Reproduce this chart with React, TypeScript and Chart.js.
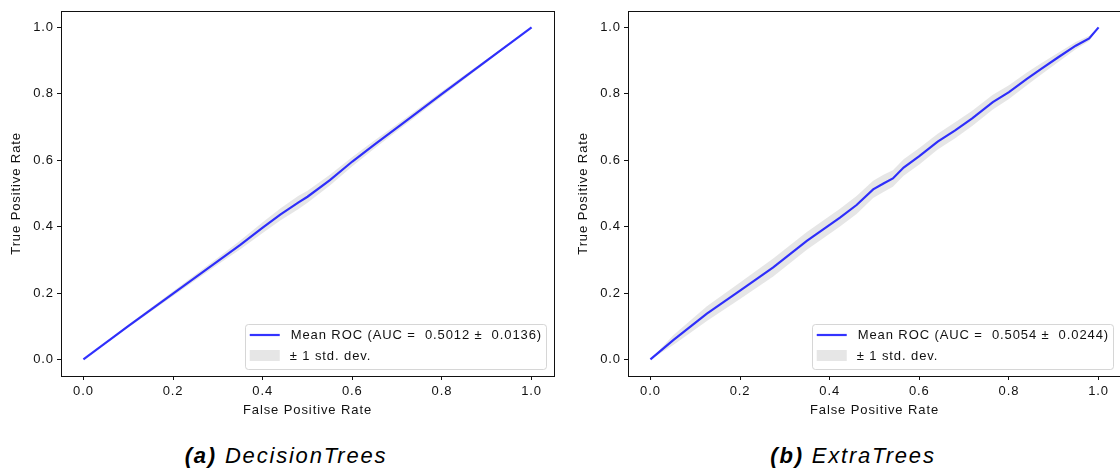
import React, { useEffect, useRef } from "react";
import { Chart, registerables } from "chart.js";

Chart.register(...registerables);

// ---------- data ----------
const DT_FPR = [0, 0.1, 0.2, 0.3, 0.35, 0.4, 0.44, 0.48, 0.5, 0.55, 0.6, 0.65, 0.7, 0.8, 0.9, 1.0];
const DT_TPR = [0, 0.1, 0.198, 0.296, 0.345, 0.397, 0.437, 0.473, 0.49, 0.54, 0.596, 0.648, 0.698, 0.8, 0.9, 1.0];
const DT_STD = [0, 0.004, 0.007, 0.01, 0.013, 0.016, 0.018, 0.02, 0.018, 0.016, 0.014, 0.012, 0.01, 0.008, 0.005, 0];

const ET_FPR = [0, 0.051, 0.126, 0.2, 0.274, 0.349, 0.423, 0.46, 0.497, 0.52, 0.541, 0.565, 0.6, 0.641, 0.68, 0.718, 0.764, 0.8, 0.84, 0.872, 0.91, 0.949, 0.979, 1.0];
const ET_TPR = [0, 0.058, 0.138, 0.207, 0.277, 0.357, 0.427, 0.465, 0.512, 0.53, 0.545, 0.578, 0.612, 0.656, 0.69, 0.726, 0.775, 0.805, 0.845, 0.875, 0.91, 0.945, 0.967, 1.0];
const ET_STD = [0, 0.015, 0.022, 0.025, 0.027, 0.027, 0.027, 0.027, 0.026, 0.026, 0.025, 0.025, 0.025, 0.024, 0.024, 0.023, 0.022, 0.021, 0.019, 0.017, 0.014, 0.011, 0.008, 0];

const TICKS = [0, 0.2, 0.4, 0.6, 0.8, 1.0];
const X_TITLE = "False Positive Rate";
const Y_TITLE = "True Positive Rate";
const DT_MEAN_LABEL = "Mean ROC (AUC =  0.5012 ±  0.0136)";
const ET_MEAN_LABEL = "Mean ROC (AUC =  0.5054 ±  0.0244)";
const STD_LABEL = "± 1 std. dev.";
const CAPTION_A = ["(a)", "DecisionTrees"];
const CAPTION_B = ["(b)", "ExtraTrees"];

// ---------- style ----------
const FONT_FAMILY = "'Liberation Sans', Arial, Helvetica, sans-serif";
const SPACING = "0.9px";
const TEXT_COLOR = "#111";
const LINE_COLOR = "rgba(0,0,255,0.8)";
const BAND_COLOR = "rgba(128,128,128,0.2)";

const framePlugin = {
  id: "frame",
  beforeDraw(chart: any) {
    (chart.ctx as any).letterSpacing = SPACING;
  },
  afterDraw(chart: any) {
    const { ctx, chartArea: a } = chart;
    ctx.save();
    (ctx as any).letterSpacing = SPACING;
    // axes frame
    ctx.strokeStyle = "#111";
    ctx.lineWidth = 1;
    ctx.strokeRect(Math.round(a.left) + 0.5, Math.round(a.top) + 0.5, Math.round(a.right - a.left), Math.round(a.bottom - a.top));

    // legend
    const ds = chart.data.datasets;
    const meanLabel = ds[0].label;
    const stdLabel = ds[1].label;
    ctx.font = `13px ${FONT_FAMILY}`;
    const tw = Math.max(ctx.measureText(meanLabel).width, ctx.measureText(stdLabel).width);
    const boxW = 5 + 30 + 11 + tw + 4;
    const boxH = 45;
    const right = a.right - 8;
    const bottom = a.bottom - 7;
    const left = right - boxW;
    const top = bottom - boxH;
    ctx.beginPath();
    (ctx as any).roundRect(Math.round(left) + 0.5, Math.round(top) + 0.5, Math.round(boxW), boxH, 3);
    ctx.fillStyle = "rgba(255,255,255,0.8)";
    ctx.fill();
    ctx.strokeStyle = "rgba(204,204,204,0.8)";
    ctx.stroke();

    ctx.beginPath();
    ctx.moveTo(left + 5, top + 11);
    ctx.lineTo(left + 35, top + 11);
    ctx.strokeStyle = LINE_COLOR;
    ctx.lineWidth = 2.2;
    ctx.stroke();

    ctx.fillStyle = BAND_COLOR;
    ctx.fillRect(left + 5, top + 26, 30, 11);

    ctx.fillStyle = TEXT_COLOR;
    ctx.textBaseline = "middle";
    ctx.textAlign = "left";
    ctx.fillText(meanLabel, left + 46, top + 11.5);
    ctx.fillText(stdLabel, left + 45, top + 32);
    ctx.restore();
  },
};

function makeConfig(fpr: number[], tpr: number[], std: number[], meanLabel: string) {
  const mean = fpr.map((x, i) => ({ x, y: tpr[i] }));
  const upper = fpr.map((x, i) => ({ x, y: Math.min(1, tpr[i] + std[i]) }));
  const lower = fpr.map((x, i) => ({ x, y: Math.max(0, tpr[i] - std[i]) }));
  const tickFont = { family: FONT_FAMILY, size: 13 };
  const setTicks = (s: any) => {
    s.ticks = TICKS.map((v) => ({ value: v }));
  };
  return {
    type: "line",
    data: {
      datasets: [
        { label: meanLabel, data: mean, borderColor: LINE_COLOR, borderWidth: 2.2, pointRadius: 0, fill: false, tension: 0 },
        { label: STD_LABEL, data: upper, borderWidth: 0, borderColor: "rgba(0,0,0,0)", backgroundColor: BAND_COLOR, pointRadius: 0, fill: "+1", tension: 0 },
        { label: "lower", data: lower, borderWidth: 0, borderColor: "rgba(0,0,0,0)", pointRadius: 0, fill: false, tension: 0 },
      ],
    },
    options: {
      responsive: false,
      animation: false,
      devicePixelRatio: 1,
      layout: { padding: { left: 0, right: 6, top: 8, bottom: 0 } },
      plugins: { legend: { display: false }, tooltip: { enabled: false } },
      elements: { point: { radius: 0 } },
      scales: {
        x: {
          type: "linear",
          min: -0.05,
          max: 1.05,
          afterFit: (s: any) => {
            s.height = 44;
          },
          afterBuildTicks: setTicks,
          ticks: { callback: (v: any) => Number(v).toFixed(1), font: tickFont, color: TEXT_COLOR, padding: 4, maxRotation: 0, autoSkip: false },
          grid: { drawOnChartArea: false, drawTicks: true, tickLength: 4, tickColor: "#111", color: "#111" },
          border: { display: false },
          title: { display: true, text: X_TITLE, font: tickFont, color: TEXT_COLOR, padding: { top: 0, bottom: 2 } },
        },
        y: {
          type: "linear",
          min: -0.05,
          max: 1.05,
          afterFit: (s: any) => {
            s.width = 61;
          },
          afterBuildTicks: setTicks,
          ticks: { callback: (v: any) => Number(v).toFixed(1), font: tickFont, color: TEXT_COLOR, padding: 3, autoSkip: false },
          grid: { drawOnChartArea: false, drawTicks: true, tickLength: 4, tickColor: "#111", color: "#111" },
          border: { display: false },
          title: { display: true, text: Y_TITLE, font: tickFont, color: TEXT_COLOR, padding: { top: 9, bottom: 0 } },
        },
      },
    },
    plugins: [framePlugin],
  };
}

function RocChart(props: { fpr: number[]; tpr: number[]; std: number[]; label: string; left: number }) {
  const ref = useRef<HTMLCanvasElement | null>(null);
  useEffect(() => {
    if (!ref.current) return;
    const chart = new Chart(ref.current, makeConfig(props.fpr, props.tpr, props.std, props.label) as any);
    return () => chart.destroy();
  }, []);
  return (
    <canvas
      ref={ref}
      width={560}
      height={420}
      style={{ position: "absolute", left: props.left, top: 0, width: 560, height: 420, display: "block" }}
    />
  );
}

function Caption(props: { parts: string[]; center: number }) {
  return (
    <div
      style={{
        position: "absolute",
        left: props.center - 200,
        width: 400,
        top: 442,
        textAlign: "center",
        fontFamily: FONT_FAMILY,
        fontStyle: "italic",
        fontSize: 22,
        letterSpacing: "1.8px",
        lineHeight: "28px",
        color: "#000",
        whiteSpace: "nowrap",
      }}
    >
      <b>{props.parts[0]}</b> {props.parts[1]}
    </div>
  );
}

export default function App() {
  return (
    <div
      style={{
        position: "fixed",
        left: 0,
        top: 0,
        width: 1120,
        height: 472,
        overflow: "hidden",
        background: "#fff",
      }}
    >
      <RocChart fpr={DT_FPR} tpr={DT_TPR} std={DT_STD} label={DT_MEAN_LABEL} left={0} />
      <RocChart fpr={ET_FPR} tpr={ET_TPR} std={ET_STD} label={ET_MEAN_LABEL} left={567} />
      <Caption parts={CAPTION_A} center={286} />
      <Caption parts={CAPTION_B} center={853} />
    </div>
  );
}
